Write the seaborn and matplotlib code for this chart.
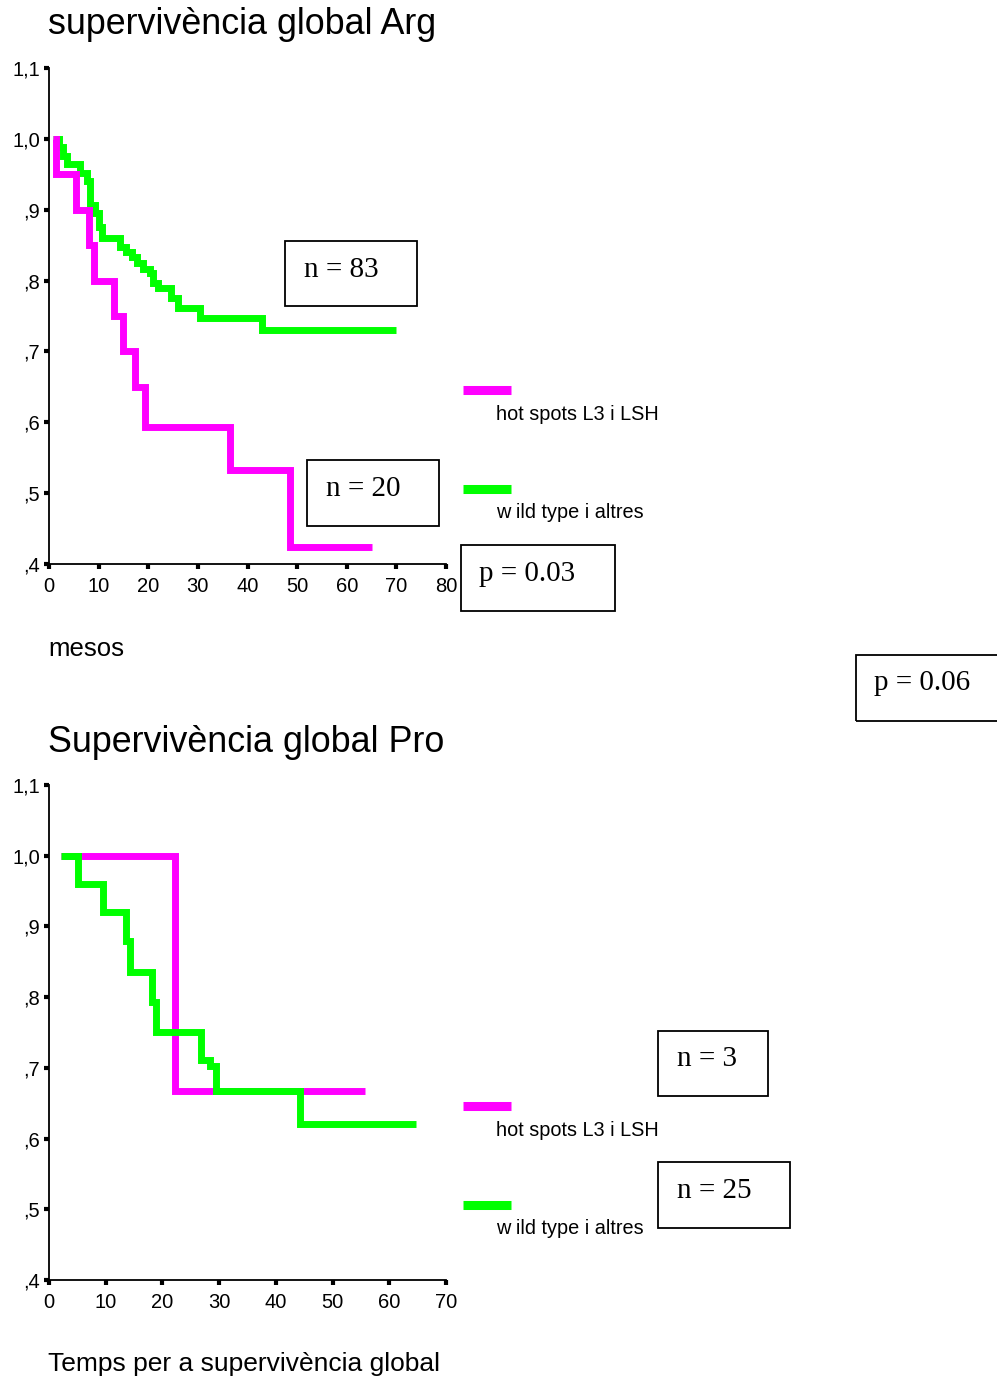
import matplotlib
matplotlib.use("Agg")
import matplotlib.pyplot as plt
import seaborn as sns
import pandas as pd
from matplotlib.patches import Rectangle
from matplotlib.lines import Line2D

sns.set_style("ticks")
plt.rcParams['font.family'] = ['Liberation Sans', 'DejaVu Sans']
plt.rcParams['text.color'] = 'black'
plt.rcParams['xtick.color'] = 'black'
plt.rcParams['ytick.color'] = 'black'

# ---------------- data ----------------
# Panel 1: supervivència global Arg
arg_hot_t = [0.8, 1.5, 5.5, 8.0, 9.0, 13.0, 15.0, 17.4, 19.4, 36.5, 48.5, 65.0]
arg_hot_s = [1.0, 0.95, 0.90, 0.85, 0.80, 0.75, 0.70, 0.65, 0.593, 0.533, 0.424, 0.424]

arg_wt_t = [0.9, 2.0, 2.8, 3.6, 6.2, 7.6, 8.3, 9.3, 10.0, 10.6, 14.3, 15.5, 16.7,
            17.7, 19.0, 20.4, 21.0, 22.0, 24.5, 26.0, 30.5, 43.0, 70.0]
arg_wt_s = [1.0, 0.988, 0.976, 0.964, 0.952, 0.940, 0.907, 0.895, 0.876, 0.860,
            0.848, 0.841, 0.833, 0.825, 0.817, 0.810, 0.796, 0.789, 0.775, 0.761,
            0.747, 0.730, 0.730]

# Panel 2: Supervivència global Pro
pro_hot_t = [2.1, 22.2, 55.7]
pro_hot_s = [1.0, 0.667, 0.667]

pro_wt_t = [2.1, 5.2, 9.6, 13.5, 14.2, 18.1, 18.8, 26.8, 28.4, 29.4, 44.3, 64.7]
pro_wt_s = [1.0, 0.960, 0.921, 0.880, 0.836, 0.793, 0.751, 0.711, 0.703, 0.667,
            0.621, 0.621]

y_ticks = [0.4, 0.5, 0.6, 0.7, 0.8, 0.9, 1.0, 1.1]
y_tick_labels = [",4", ",5", ",6", ",7", ",8", ",9", "1,0", "1,1"]
x_ticks_arg = [0, 10, 20, 30, 40, 50, 60, 70, 80]
x_ticks_pro = [0, 10, 20, 30, 40, 50, 60, 70]

group_labels = ["hot spots L3 i LSH", "w ild type i altres"]
colors = ["#FF00FF", "#00FF00"]

W, H = 997, 1377
fig = plt.figure(figsize=(W / 100, H / 100), dpi=100)

def fx(px):
    return px / W

def fy(py):
    return 1 - py / H

def make_ax(top, bottom, xmax, xticks):
    ax = fig.add_axes([fx(49), fy(bottom), (446 - 49) / W, (bottom - top) / H])
    ax.set_xlim(0, xmax)
    ax.set_ylim(0.4, 1.1)
    ax.set_xticks(xticks)
    ax.set_xticklabels([str(v) for v in xticks])
    ax.set_yticks(y_ticks)
    ax.set_yticklabels(y_tick_labels)
    for s in ["top", "right"]:
        ax.spines[s].set_visible(False)
    for s in ["left", "bottom"]:
        ax.spines[s].set_linewidth(1.3)
        ax.spines[s].set_color("black")
    ax.tick_params(axis="both", which="major", direction="out", length=3.5,
                   width=3, color="black", labelsize=14.5, labelcolor="black",
                   bottom=True, left=True)
    ax.tick_params(axis="x", pad=6)
    ax.tick_params(axis="y", pad=3)
    ax.grid(False)
    return ax

def draw(ax, t, s, color):
    df = pd.DataFrame({"t": t, "s": s})
    sns.lineplot(data=df, x="t", y="s", ax=ax, color=color, linewidth=5,
                 drawstyle="steps-post", estimator=None, sort=False,
                 legend=False, solid_joinstyle="miter", solid_capstyle="butt")
    ax.set_xlabel("")
    ax.set_ylabel("")

ax1 = make_ax(68, 564, 80, x_ticks_arg)
draw(ax1, arg_wt_t, arg_wt_s, colors[1])
draw(ax1, arg_hot_t, arg_hot_s, colors[0])

ax2 = make_ax(785, 1280, 70, x_ticks_pro)
draw(ax2, pro_hot_t, pro_hot_s, colors[0])
draw(ax2, pro_wt_t, pro_wt_s, colors[1])

# titles and axis captions
fig.text(fx(48), fy(24), "supervivència global Arg", fontsize=25.8, va="center", ha="left")
fig.text(fx(48), fy(649), "mesos", fontsize=18.5, va="center", ha="left")
fig.text(fx(48), fy(742), "Supervivència global Pro", fontsize=25.8, va="center", ha="left")
fig.text(fx(48), fy(1364), "Temps per a supervivència global", fontsize=19,
         va="center", ha="left")

# legends (drawn manually, like the original)
def legend(y_line1, y_text1, y_line2, y_text2):
    for yl, yt, lab, col in [(y_line1, y_text1, group_labels[0], colors[0]),
                             (y_line2, y_text2, group_labels[1], colors[1])]:
        fig.add_artist(Line2D([fx(463), fx(511)], [fy(yl), fy(yl)], color=col,
                              linewidth=6.5, solid_capstyle="butt"))
        fig.text(fx(496), fy(yt), lab, fontsize=14.3, va="center", ha="left")

legend(390, 414, 489, 513)
legend(1106, 1130, 1205, 1229)

# boxed annotations
def box(x0, y0, x1, y1, text, tx, ty):
    fig.add_artist(Rectangle((fx(x0), fy(y1)), (x1 - x0) / W, (y1 - y0) / H,
                             transform=fig.transFigure, fill=False,
                             edgecolor="black", linewidth=1.3, clip_on=False))
    fig.text(fx(tx), fy(ty), text, fontsize=21, family=["Liberation Serif", "DejaVu Serif"],
             va="center", ha="left")

box(285, 241, 417, 306, "n = 83", 304, 270)
box(307, 460, 439, 526, "n = 20", 326, 489)
box(461, 545, 615, 611, "p = 0.03", 479, 574)
box(856, 655, 1002, 721, "p = 0.06", 874, 683)
box(658, 1031, 768, 1096, "n = 3", 677, 1059)
box(658, 1162, 790, 1228, "n = 25", 677, 1191)

fig.savefig("out.png", dpi=100)
